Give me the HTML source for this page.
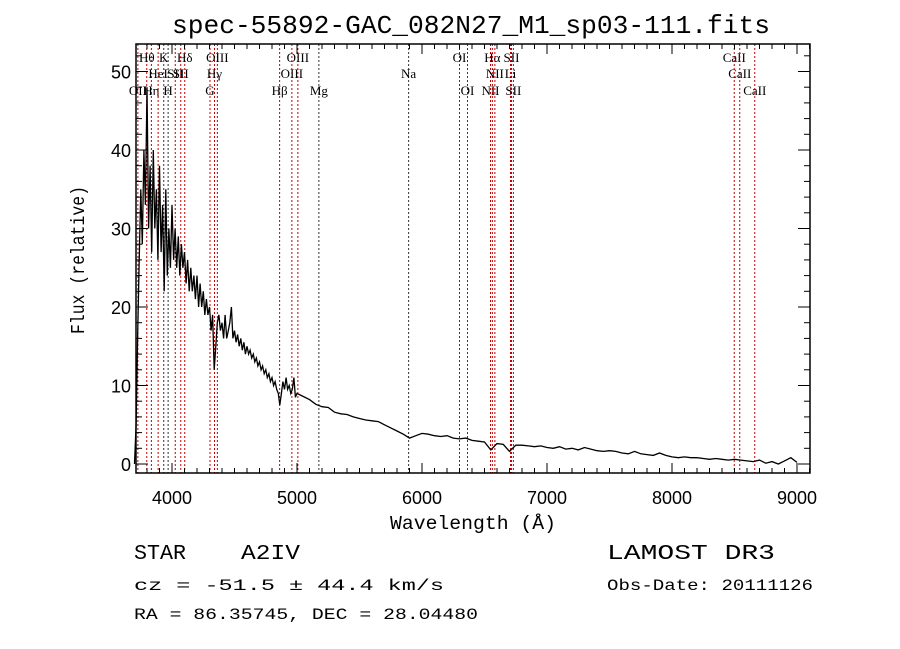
<!DOCTYPE html>
<html><head><meta charset="utf-8"><style>
html,body{margin:0;padding:0;background:#fff;}
svg{display:block;font-family:"Liberation Mono",monospace;}
</style></head><body>
<svg id="chart" width="900" height="649" viewBox="0 0 900 649" xmlns="http://www.w3.org/2000/svg">
<rect width="900" height="649" fill="#fff"/>
<text x="471" y="33" font-size="26" text-anchor="middle" textLength="598" lengthAdjust="spacingAndGlyphs">spec-55892-GAC_082N27_M1_sp03-111.fits</text>
<g id="lines"></g>
<g id="spec"></g>
<g id="axes"></g>
<text x="473" y="529" font-size="19" text-anchor="middle" textLength="166" lengthAdjust="spacingAndGlyphs">Wavelength (Å)</text>
<text transform="translate(84,260) rotate(-90)" font-size="19" text-anchor="middle" textLength="148" lengthAdjust="spacingAndGlyphs">Flux (relative)</text>
<text x="134" y="559" font-size="21" textLength="52" lengthAdjust="spacingAndGlyphs">STAR</text>
<text x="241" y="559" font-size="21" textLength="59" lengthAdjust="spacingAndGlyphs">A2IV</text>
<text x="607" y="559" font-size="21" textLength="168" lengthAdjust="spacingAndGlyphs">LAMOST DR3</text>
<text x="134" y="590" font-size="16" textLength="310" lengthAdjust="spacingAndGlyphs">cz = -51.5 ± 44.4 km/s</text>
<text x="607" y="590" font-size="16" textLength="206" lengthAdjust="spacingAndGlyphs">Obs-Date: 20111126</text>
<text x="134" y="619" font-size="16" textLength="344" lengthAdjust="spacingAndGlyphs">RA =  86.35745, DEC =  28.04480</text>
</svg>
<script>
var flux1 = [0,5,16,26,35,28,40,33,48,30,38,27,40,30,35,26,38,27,33,22,35,24,30,25,33,26,30,25,29,24,28,25,27,23,26,22,25,22,24,21,24,20,23,20,22,19,21,19,20,17,19,12,15,18,19,17,18,16,19,16,17,18,20,16,17,15.5,16.5,15,16,14.5,15.5,14,15,14,14.5,13.5,14,13,13.5,12.5,13,12,12.5,11.5,12,11,11.5,10.5,11,10,10.5,9.5,9,7.5,9,10.5,9.5,11,9.5,10,9,9.5,11,8.5,9];
var flux2 = [8.6,8.2,7.6,7.3,7.2,6.6,6.4,6.3,6,5.8,5.6,5.5,5.4,5,4.6,4.2,3.8,3.3,3.6,3.9,3.8,3.6,3.5,3.6,3.3,3.2,3.3,3.0,2.9,2.8,1.8,2.6,2.5,1.6,2.4,2.4,2.3,2.2,2.3,2.1,2.0,2.2,1.9,2.0,1.8,2.1,1.9,1.7,1.6,1.7,1.6,1.4,1.3,1.6,1.3,1.2,1.1,1.4,1.1,0.9,0.8,0.9,0.8,0.8,0.7,0.6,0.7,0.6,0.5,0.6,0.5,0.4,0.3,0.5,0.1,0.3,0.0,0.4,0.8,0.2];
var lineWaves = [3727,3798,3835,3889,3934,3969,4026,4070,4102,4304,4340,4363,4861,4959,5007,5175,5893,6300,6364,6548,6563,6583,6708,6716,6731,8498,8542,8662];
var lineRed = [1,1,1,1,0,0,1,1,1,1,1,1,1,1,1,0,0,1,1,1,1,1,1,1,1,1,1,1];
var labelText = ["OII","Hθ","Hη","HeI","K","H","SII","SII","Hδ","G","Hγ","OIII","Hβ","OIII","OIII","Mg","Na","OI","OI","NII","Hα","NII","Li","SII","SII","CaII","CaII","CaII"];
var labelRow = [2,0,2,1,0,2,1,1,0,2,1,0,2,1,0,2,1,0,2,2,0,1,1,0,2,0,1,2];
var xTicks = [4000,5000,6000,7000,8000,9000];
var yTicks = [0,10,20,30,40,50];

var L=136,R=810,T=44,B=473;
function xs(w){return 172+(w-4000)*0.125;}
function ys(v){return 464-v*7.85;}
var NS="http://www.w3.org/2000/svg";
function mk(tag,attrs,parent){var e=document.createElementNS(NS,tag);for(var k in attrs)e.setAttribute(k,attrs[k]);parent.appendChild(e);return e;}

var gl=document.getElementById('lines');
for(var i=0;i<lineWaves.length;i++){
  var x=xs(lineWaves[i]);
  var ln=mk('line',{x1:x,x2:x,y1:T,y2:B,stroke:lineRed[i]?'#c00000':'#333','stroke-width':1,'stroke-dasharray':'2,2'},gl);
  
  
  var ty=[62,78,95][labelRow[i]];
  var t=mk('text',{x:x,y:ty,'font-size':13,'font-family':'Liberation Serif, serif','text-anchor':'middle'},gl);
  t.textContent=labelText[i];
  
  
}

var pts=[];
for(var i=0;i<flux1.length;i++){pts.push(xs(3700+12.5*i).toFixed(1)+','+ys(flux1[i]).toFixed(1));}
for(var i=0;i<flux2.length;i++){pts.push(xs(5050+50*i).toFixed(1)+','+ys(flux2[i]).toFixed(1));}
var sp=mk('polyline',{points:pts.join(' '),fill:'none',stroke:'#000','stroke-width':1.3},document.getElementById('spec'));



var ga=document.getElementById('axes');
var fr=mk('rect',{x:L,y:T,width:R-L,height:B-T,fill:'none',stroke:'#000','stroke-width':1.5},ga);


for(var w=3800;w<=9100;w+=100){
  var x=xs(w),len=(w%1000===0)?10:5;
  mk('line',{x1:x,x2:x,y1:B,y2:B-len,stroke:'#000'},ga);
  mk('line',{x1:x,x2:x,y1:T,y2:T+len,stroke:'#000'},ga);
}
for(var v=0;v<=52;v+=2){
  var y=ys(v),len=(v%10===0)?12:6;
  mk('line',{x1:L,x2:L+len,y1:y,y2:y,stroke:'#000'},ga);
  mk('line',{x1:R,x2:R-len,y1:y,y2:y,stroke:'#000'},ga);
}
for(var i=0;i<xTicks.length;i++){
  var t=mk('text',{x:xs(xTicks[i]),y:504,'font-size':18,'text-anchor':'middle','font-family':'Liberation Sans, sans-serif'},ga);
  t.textContent=xTicks[i];
  
  
}
for(var i=0;i<yTicks.length;i++){
  var t=mk('text',{x:131,y:ys(yTicks[i])+7,'font-size':18,'text-anchor':'end','font-family':'Liberation Sans, sans-serif'},ga);
  t.textContent=yTicks[i];
  
  
}
</script>
</body></html>
